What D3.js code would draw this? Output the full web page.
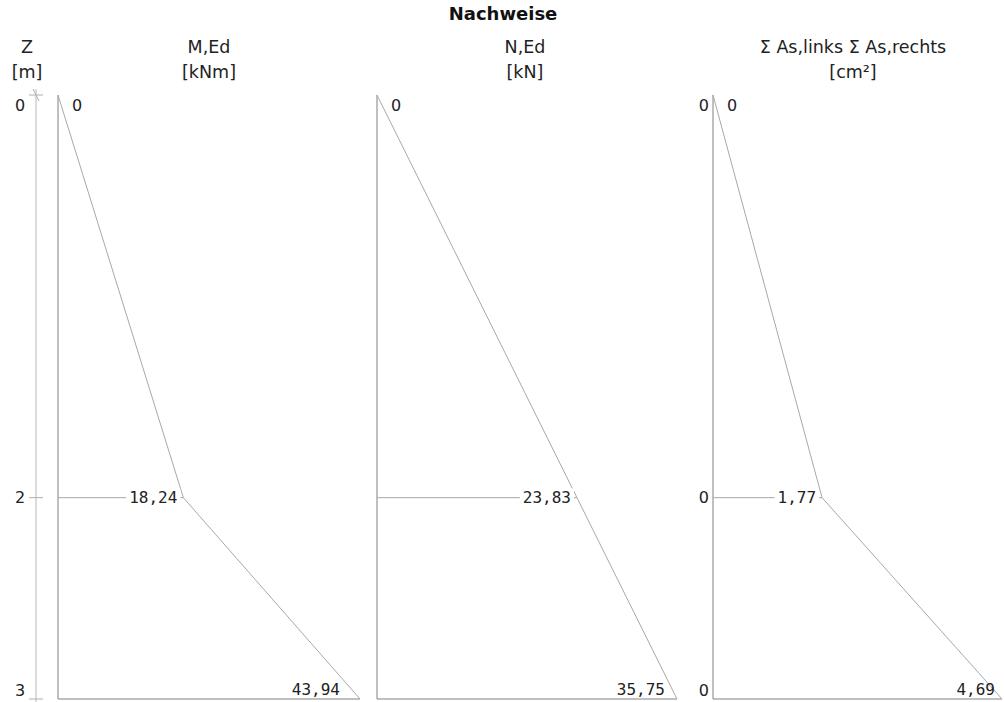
<!DOCTYPE html>
<html><head><meta charset="utf-8">
<script src="https://cdn.jsdelivr.net/npm/d3@7"></script>
<style>body{margin:0;background:#fff}svg{display:block}</style>
</head><body><svg id="c" width="1004" height="702"></svg>
<script>
// ---- data ----
const title = "Nachweise";
const depths = [0, 2, 3];
const zTickLabels = ["0", "2", "3"];
const mEd = [0, 18.24, 43.94];
const nEd = [0, 23.83, 35.75];
const asLinks = [0, 0, 0];
const asRechts = [0, 1.77, 4.69];
const headers = [["Z", "[m]"], ["M,Ed", "[kNm]"], ["N,Ed", "[kN]"], ["Σ As,links Σ As,rechts", "[cm²]"]];

// ---- layout ----
const svg = d3.select("#c");
const y = d3.scaleLinear().domain([0, 3]).range([95, 699]);
const fmt = v => v === 0 ? "0" : d3.format(".2f")(v).replace(".", ",");
const lineCol = "#a8a8a8", baseCol = "#808080", textCol = "#222";
const sans = "'DejaVu Sans', Verdana, sans-serif";
const mono = "'DejaVu Sans Mono', monospace";

svg.append("text").attr("x", 503).attr("y", 20).attr("text-anchor", "middle")
  .attr("font-family", sans).attr("font-weight", "bold").attr("font-size", 18).attr("fill", "#111").text(title);

const headerX = [27, 209, 525, 853];
headers.forEach((h, i) => {
  h.forEach((t, j) => svg.append("text").attr("x", headerX[i]).attr("y", 53 + j * 25)
    .attr("text-anchor", "middle").attr("font-family", sans).attr("font-size", 17.5).attr("fill", textCol).text(t));
});

// Z axis
const zx = 36;
svg.append("line").attr("x1", zx).attr("x2", zx).attr("y1", 89).attr("y2", 702).attr("stroke", "#b8b8b8");
depths.forEach((d, i) => {
  const yy = y(d);
  svg.append("line").attr("x1", zx - 7).attr("x2", zx + 7).attr("y1", yy).attr("y2", yy).attr("stroke", "#b0b0b0");
  if (i === 0) svg.append("line").attr("x1", zx - 3).attr("x2", zx + 3).attr("y1", yy - 6).attr("y2", yy + 6).attr("stroke", "#b0b0b0");
  const ly = i === 0 ? yy + 10 : (i === depths.length - 1 ? yy - 9 : yy);
  svg.append("text").attr("x", 20).attr("y", ly).attr("dy", "0.36em").attr("text-anchor", "middle")
    .attr("font-family", sans).attr("font-size", 16).attr("fill", textCol).text(zTickLabels[i]);
});

const panels = [
  {vals: mEd, x0: 58, w: 302, gap: 20},
  {vals: nEd, x0: 377, w: 300, gap: 12},
  {vals: asRechts, x0: 713, w: 289, gap: 7, left: asLinks}
];

panels.forEach(p => {
  const max = d3.max(p.vals);
  const x = d3.scaleLinear().domain([0, max]).range([p.x0, p.x0 + p.w]);
  const g = svg.append("g");
  g.append("line").attr("x1", p.x0).attr("x2", p.x0).attr("y1", y(0)).attr("y2", y(3)).attr("stroke", baseCol);
  g.append("line").attr("x1", p.x0).attr("x2", x(p.vals[2])).attr("y1", y(3)).attr("y2", y(3)).attr("stroke", baseCol);
  g.append("line").attr("x1", p.x0).attr("x2", x(p.vals[1])).attr("y1", y(2)).attr("y2", y(2)).attr("stroke", lineCol);
  const line = d3.line().x(d => x(d)).y((d, i) => y(depths[i]));
  g.append("path").attr("d", line(p.vals)).attr("fill", "none").attr("stroke", lineCol);
  g.append("text").attr("x", p.x0 + 14).attr("y", y(0) + 10).attr("dy", "0.36em")
    .attr("font-family", sans).attr("font-size", 16).attr("fill", textCol).text(fmt(p.vals[0]));
  const mid = g.append("text").attr("x", x(p.vals[1]) - 6).attr("y", y(2)).attr("dy", "0.36em").attr("text-anchor", "end")
    .attr("font-family", mono).attr("font-size", 16).attr("fill", textCol).text(fmt(p.vals[1]));
  const bb = mid.node().getBBox();
  g.insert("rect", "text").attr("x", bb.x - 3).attr("y", bb.y).attr("width", bb.width + 6).attr("height", bb.height).attr("fill", "#fff");
  g.append("text").attr("x", x(p.vals[2]) - p.gap).attr("y", y(3) - 10).attr("dy", "0.36em").attr("text-anchor", "end")
    .attr("font-family", mono).attr("font-size", 16).attr("fill", textCol).text(fmt(p.vals[2]));
  if (p.left) {
    p.left.forEach((v, i) => {
      const ly = i === 0 ? y(depths[i]) + 10 : (i === depths.length - 1 ? y(depths[i]) - 9 : y(depths[i]));
      g.append("text").attr("x", p.x0 - 4).attr("y", ly).attr("dy", "0.36em").attr("text-anchor", "end")
        .attr("font-family", sans).attr("font-size", 16).attr("fill", textCol).text(fmt(v));
    });
  }
});
</script></body></html>
